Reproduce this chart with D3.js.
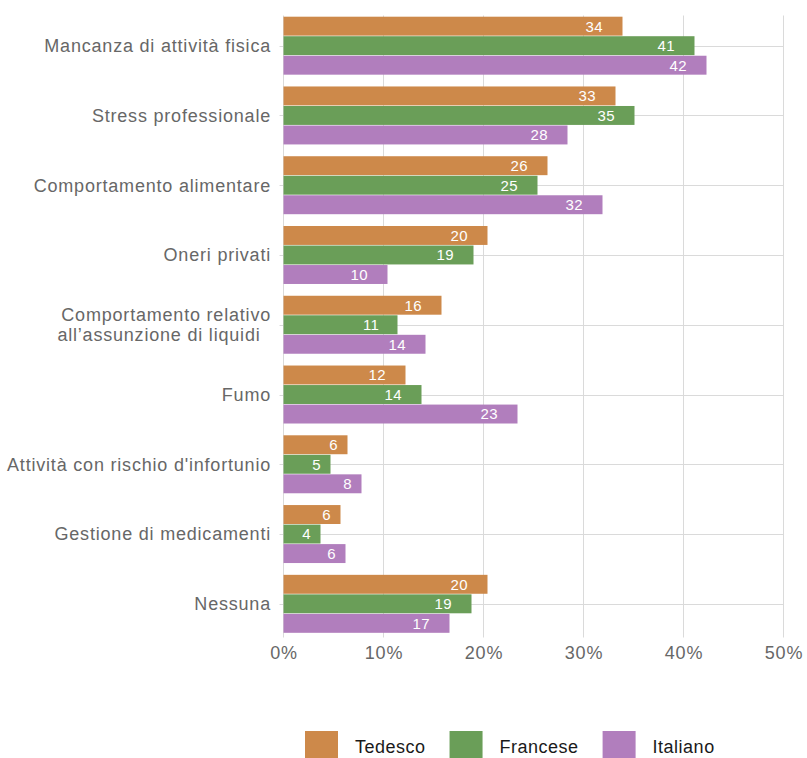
<!DOCTYPE html>
<html>
<head>
<meta charset="utf-8">
<script src="https://cdn.jsdelivr.net/npm/d3@7"></script>
<style>
  html, body { margin: 0; padding: 0; background: #fff; }
  svg { display: block; font-family: "Liberation Sans", Arial, Helvetica, sans-serif; }
</style>
</head>
<body>
<svg id="chart" width="807" height="758"></svg>
<script>
// ---- data ----
const categories = [
  "Mancanza di attività fisica",
  "Stress professionale",
  "Comportamento alimentare",
  "Oneri privati",
  "Comportamento relativo|all’assunzione di liquidi",
  "Fumo",
  "Attività con rischio d'infortunio",
  "Gestione di medicamenti",
  "Nessuna"
];
const seriesNames = ["Tedesco", "Francese", "Italiano"];
const tedesco  = [33.9, 33.2, 26.4, 20.4, 15.8, 12.2, 6.4, 5.7, 20.4];
const francese = [41.1, 35.1, 25.4, 19.0, 11.4, 13.8, 4.7, 3.7, 18.8];
const italiano = [42.3, 28.4, 31.9, 10.4, 14.2, 23.4, 7.8, 6.2, 16.6];
const xTicks = [0, 10, 20, 30, 40, 50];
const colors = ["#cd894a", "#6a9e58", "#b17ebd"];

const seriesValues = [tedesco, francese, italiano];
const rows = categories.map((c, i) => ({
  cat: c,
  vals: seriesNames.map((s, j) => ({ series: s, value: seriesValues[j][i] }))
}));

// ---- layout ----
const svg = d3.select("#chart");
const left = 283.5, right = 783.5;
const gridTop = 15.5, gridBottom = 633.5;
const labelFont = "18px", labelSpacing = "0.8px";

const x = d3.scaleLinear().domain([0, 50]).range([left, right]);
const y = d3.scaleBand().domain(categories).range([10.8, 638.7])
  .paddingInner(0.169).paddingOuter(0.0845);
const ySub = d3.scaleBand().domain(seriesNames).range([0, y.bandwidth()]).paddingInner(0.03);
const color = d3.scaleOrdinal().domain(seriesNames).range(colors);

const grid = svg.append("g");
grid.selectAll("line.v").data(xTicks).join("line")
  .attr("x1", d => x(d)).attr("x2", d => x(d))
  .attr("y1", gridTop).attr("y2", gridBottom + 4)
  .attr("stroke", "#dadada").attr("stroke-width", 1);
grid.selectAll("line.h").data(categories).join("line")
  .attr("x1", left - 4).attr("x2", right)
  .attr("y1", d => Math.round(y(d) + y.bandwidth() / 2) + 0.5)
  .attr("y2", d => Math.round(y(d) + y.bandwidth() / 2) + 0.5)
  .attr("stroke", "#dadada").attr("stroke-width", 1);

// bars
const groups = svg.append("g").selectAll("g").data(rows).join("g")
  .attr("transform", d => `translate(0,${y(d.cat)})`);
groups.selectAll("rect").data(d => d.vals).join("rect")
  .attr("x", x(0))
  .attr("y", d => ySub(d.series))
  .attr("width", d => x(d.value) - x(0))
  .attr("height", ySub.bandwidth())
  .attr("fill", d => color(d.series));

const fmt = d3.format(".0f");
groups.selectAll("text").data(d => d.vals).join("text")
  .attr("y", d => ySub(d.series) + ySub.bandwidth() / 2)
  .attr("dy", "0.36em")
  .attr("text-anchor", "end")
  .attr("fill", "#ffffff")
  .style("font-size", "15px")
  .style("letter-spacing", "0.3px")
  .text(d => fmt(d.value))
  .each(function(d) {
    const w = this.getComputedTextLength();
    d3.select(this).attr("x", x(d.value) - 1.15 * w + 0.3);
  });

// y axis labels
const yLab = svg.append("g").selectAll("text").data(categories).join("text")
  .attr("text-anchor", "end")
  .attr("fill", "#676767")
  .style("font-size", labelFont)
  .style("letter-spacing", labelSpacing)
  .attr("x", left - 12.5)
  .attr("y", d => y(d) + y.bandwidth() / 2);
yLab.each(function(d) {
  const parts = d.split("|");
  const t = d3.select(this);
  if (parts.length === 1) {
    t.append("tspan").attr("dy", "0.35em").text(parts[0]);
  } else {
    t.append("tspan").attr("x", left - 12.5).attr("dy", "-0.2em").text(parts[0]);
    t.append("tspan").attr("x", left - 23).attr("dy", "1.1em").text(parts[1]);
  }
});

// x axis tick labels
svg.append("g").selectAll("text").data(xTicks).join("text")
  .attr("x", d => x(d) + 0.5)
  .attr("y", 653)
  .attr("dy", "0.35em")
  .attr("text-anchor", "middle")
  .attr("fill", "#676767")
  .style("font-size", labelFont)
  .style("letter-spacing", labelSpacing)
  .text(d => d + "%");

// legend
const legend = svg.append("g");
let lx = 305;
seriesNames.forEach((s) => {
  legend.append("rect")
    .attr("x", lx).attr("y", 731)
    .attr("width", 33).attr("height", 27)
    .attr("fill", color(s));
  const t = legend.append("text")
    .attr("x", lx + 50).attr("y", 747)
    .attr("dy", "0.35em")
    .attr("fill", "#1a1a1a")
    .style("font-size", labelFont)
    .style("letter-spacing", "0.5px")
    .text(s);
  lx = lx + 50 + t.node().getComputedTextLength() + 24;
});
</script>
</body>
</html>
